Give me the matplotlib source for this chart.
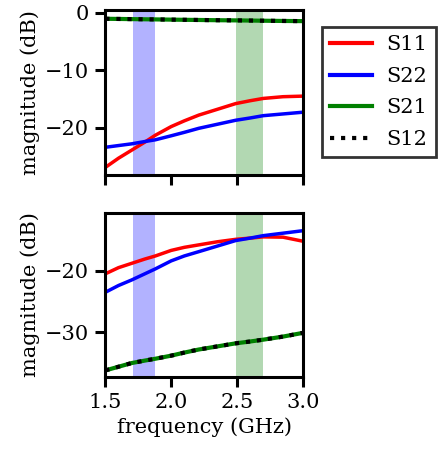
import matplotlib
matplotlib.use("Agg")
import matplotlib.pyplot as plt
import numpy as np

plt.rcParams['font.family'] = ['DejaVu Serif']
plt.rcParams['font.size'] = 15

# frequency samples (GHz)
freq = [1.5, 1.6, 1.7, 1.8, 1.88, 2.0, 2.1, 2.21, 2.35, 2.49, 2.6, 2.7, 2.85, 3.0]

# top panel
top_s11 = [-26.9, -25.3, -23.9, -22.5, -21.3, -19.8, -18.8, -17.8, -16.8, -15.8, -15.3, -14.9, -14.6, -14.5]
top_s22 = [-23.4, -23.1, -22.8, -22.4, -22.1, -21.4, -20.8, -20.1, -19.4, -18.7, -18.3, -17.9, -17.6, -17.3]
top_s21 = [-1.04, -1.07, -1.1, -1.13, -1.15, -1.19, -1.22, -1.25, -1.29, -1.32, -1.35, -1.38, -1.42, -1.45]
top_s12 = top_s21

# bottom panel
bot_s11 = [-20.5, -19.5, -18.8, -18.1, -17.6, -16.7, -16.2, -15.8, -15.3, -14.9, -14.7, -14.5, -14.55, -15.2]
bot_s22 = [-23.5, -22.4, -21.5, -20.5, -19.7, -18.4, -17.6, -16.9, -16.0, -15.1, -14.7, -14.3, -13.9, -13.5]
bot_s21 = [-36.2, -35.6, -35.0, -34.6, -34.3, -33.8, -33.3, -32.8, -32.3, -31.8, -31.5, -31.2, -30.7, -30.1]
bot_s12 = bot_s21

bands = [(1.71, 1.88, 'blue'), (2.49, 2.70, 'green')]
labels = ['S11', 'S22', 'S21', 'S12']

fig = plt.figure(figsize=(4.39, 4.51), dpi=100)
ax1 = fig.add_axes([0.240, 0.611, 0.4497, 0.367])
ax2 = fig.add_axes([0.240, 0.165, 0.4497, 0.363])

def draw(ax, s11, s22, s21, s12):
    for lo, hi, c in bands:
        ax.axvspan(lo, hi, color=c, alpha=0.3, lw=0)
    l1, = ax.plot(freq, s11, color='red', lw=2.5, label=labels[0])
    l2, = ax.plot(freq, s22, color='blue', lw=2.5, label=labels[1])
    l3, = ax.plot(freq, s21, color='green', lw=3, label=labels[2])
    l4, = ax.plot(freq, s12, color='black', lw=3, ls=':', label=labels[3])
    ax.set_xlim(1.5, 3.0)
    ax.set_ylabel('magnitude (dB)')
    for sp in ax.spines.values():
        sp.set_linewidth(2.2)
    ax.tick_params(width=2.2, length=7, pad=4.5)
    return [l1, l2, l3, l4]

handles = draw(ax1, top_s11, top_s22, top_s21, top_s12)
draw(ax2, bot_s11, bot_s22, bot_s21, bot_s12)

ax1.set_ylim(-28.3, 0.5)
ax1.set_yticks([0, -10, -20])
ax1.set_xticks([1.5, 2.0, 2.5, 3.0])
ax1.set_xticklabels([])

ax2.set_ylim(-37.2, -10.6)
ax2.set_yticks([-20, -30])
ax2.set_xticks([1.5, 2.0, 2.5, 3.0])
ax2.set_xlabel('frequency (GHz)')

leg = fig.legend(handles, labels, loc='upper left', bbox_to_anchor=(0.733, 0.94),
                 fancybox=False, frameon=True, handlelength=2.0, borderpad=0.4,
                 labelspacing=0.6, handletextpad=0.7, borderaxespad=0)
leg.get_frame().set_edgecolor('black')
leg.get_frame().set_linewidth(2)
for h in leg.get_lines():
    h.set_linewidth(3)

fig.savefig('out.png', dpi=100)
